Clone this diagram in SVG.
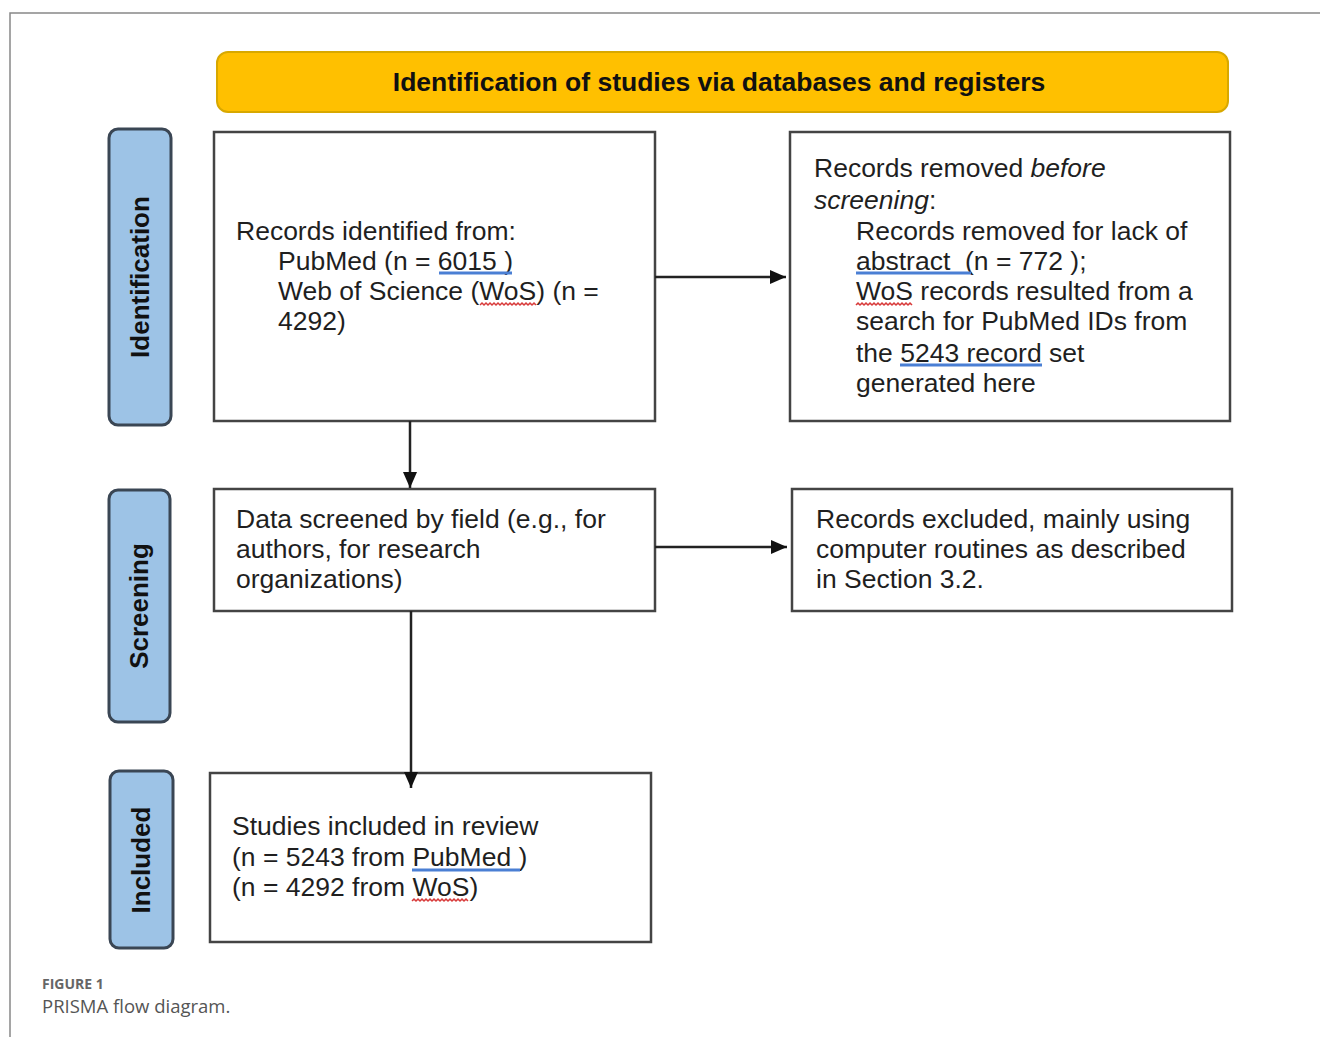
<svg xmlns="http://www.w3.org/2000/svg" width="1320" height="1037" viewBox="0 0 1320 1037">
<defs>
<style>
.t{font-family:"Liberation Sans",Arial,sans-serif;font-size:26.5px;fill:#1f1f1f}
.box{fill:#fff;stroke:#444;stroke-width:2.5}
.side{fill:#9dc3e6;stroke:#3a4654;stroke-width:3}
.sl{font-family:"Liberation Sans",Arial,sans-serif;font-size:26px;font-weight:bold;fill:#111;text-anchor:middle}
.conn{stroke:#222;stroke-width:2.5;fill:none}
.blu{stroke:#4a7fd4;stroke-width:3;fill:none}
.red{stroke:#d83a3a;stroke-width:1.5;fill:none}
</style>
<marker id="arr" viewBox="0 0 16 16" refX="16" refY="8" markerWidth="16" markerHeight="16" orient="auto" markerUnits="userSpaceOnUse">
<path d="M0,1 L16,8 L0,15 Z" fill="#111"/>
</marker>
</defs>
<rect width="1320" height="1037" fill="#fff"/>
<path d="M10,1037 L10,13 L1320,13" fill="none" stroke="#888" stroke-width="1.5"/>

<g id="header">
<rect x="217" y="52" width="1011" height="60" rx="11" fill="#ffc000" stroke="#d8a800" stroke-width="2"/>
<text x="719" y="91" text-anchor="middle" style="font-family:'Liberation Sans',Arial,sans-serif;font-size:26.5px;font-weight:bold;fill:#111">Identification of studies via databases and registers</text>
</g>

<g id="side-identification">
<rect class="side" x="109" y="129" width="62" height="296" rx="9"/>
<text class="sl" transform="translate(149,277) rotate(-90)">Identification</text>
</g>
<g id="side-screening">
<rect class="side" x="109" y="490" width="61" height="232" rx="9"/>
<text class="sl" transform="translate(148,606) rotate(-90)">Screening</text>
</g>
<g id="side-included">
<rect class="side" x="110" y="771" width="63" height="177" rx="9"/>
<text class="sl" transform="translate(150,860) rotate(-90)">Included</text>
</g>

<g id="node-identified">
<rect class="box" x="214" y="132" width="441" height="289"/>
<text class="t" x="236" y="240">Records identified from:</text>
<text class="t" x="278" y="270">PubMed (n = 6015 )</text>
<text class="t" x="278" y="300">Web of Science (WoS) (n =</text>
<text class="t" x="278" y="330">4292)</text>
<line class="blu" x1="439" y1="273" x2="512" y2="273"/>
<path class="red" d="M480,305 l2,-2 l2,2 l2,-2 l2,2 l2,-2 l2,2 l2,-2 l2,2 l2,-2 l2,2 l2,-2 l2,2 l2,-2 l2,2 l2,-2 l2,2 l2,-2 l2,2 l2,-2 l2,2 l2,-2 l2,2 l2,-2 l2,2 l2,-2 l2,2 l2,-2 l2,2"/>
</g>

<g id="node-removed">
<rect class="box" x="790" y="132" width="440" height="289"/>
<text class="t" x="814" y="177">Records removed <tspan font-style="italic">before</tspan></text>
<text class="t" x="814" y="209" font-style="italic">screening<tspan font-style="normal">:</tspan></text>
<text class="t" x="856" y="240">Records removed for lack of</text>
<text class="t" x="856" y="270" xml:space="preserve">abstract  (n = 772 );</text>
<text class="t" x="856" y="300">WoS records resulted from a</text>
<text class="t" x="856" y="330">search for PubMed IDs from</text>
<text class="t" x="856" y="362">the 5243 record set</text>
<text class="t" x="856" y="392">generated here</text>
<line class="blu" x1="856" y1="273" x2="971" y2="273"/>
<line class="blu" x1="900" y1="365" x2="1042" y2="365"/>
<path class="red" d="M856,305 l2,-2 l2,2 l2,-2 l2,2 l2,-2 l2,2 l2,-2 l2,2 l2,-2 l2,2 l2,-2 l2,2 l2,-2 l2,2 l2,-2 l2,2 l2,-2 l2,2 l2,-2 l2,2 l2,-2 l2,2 l2,-2 l2,2 l2,-2 l2,2 l2,-2 l2,2"/>
</g>

<g id="node-screened">
<rect class="box" x="214" y="489" width="441" height="122"/>
<text class="t" x="236" y="528">Data screened by field (e.g., for</text>
<text class="t" x="236" y="558">authors, for research</text>
<text class="t" x="236" y="588">organizations)</text>
</g>

<g id="node-excluded">
<rect class="box" x="792" y="489" width="440" height="122"/>
<text class="t" x="816" y="528">Records excluded, mainly using</text>
<text class="t" x="816" y="558">computer routines as described</text>
<text class="t" x="816" y="588">in Section 3.2.</text>
</g>

<g id="node-included">
<rect class="box" x="210" y="773" width="441" height="169"/>
<text class="t" x="232" y="835">Studies included in review</text>
<text class="t" x="232" y="866">(n = 5243 from PubMed )</text>
<text class="t" x="232" y="896">(n = 4292 from WoS)</text>
<line class="blu" x1="412" y1="870" x2="520" y2="870"/>
<path class="red" d="M412,901 l2,-2 l2,2 l2,-2 l2,2 l2,-2 l2,2 l2,-2 l2,2 l2,-2 l2,2 l2,-2 l2,2 l2,-2 l2,2 l2,-2 l2,2 l2,-2 l2,2 l2,-2 l2,2 l2,-2 l2,2 l2,-2 l2,2 l2,-2 l2,2 l2,-2 l2,2"/>
</g>

<g id="connectors">
<line class="conn" x1="655" y1="277" x2="786" y2="277" marker-end="url(#arr)"/>
<line class="conn" x1="410" y1="421" x2="410" y2="488" marker-end="url(#arr)"/>
<line class="conn" x1="655" y1="547" x2="787" y2="547" marker-end="url(#arr)"/>
<line class="conn" x1="411" y1="611" x2="411" y2="788" marker-end="url(#arr)"/>
</g>

<g id="caption">
<text x="42" y="989" style="font-family:'Open Sans','Noto Sans',sans-serif;font-size:14px;font-weight:bold;fill:#666">FIGURE 1</text>
<text x="42" y="1013" style="font-family:'Open Sans','Noto Sans',sans-serif;font-size:18.5px;fill:#555">PRISMA flow diagram.</text>
</g>
</svg>
